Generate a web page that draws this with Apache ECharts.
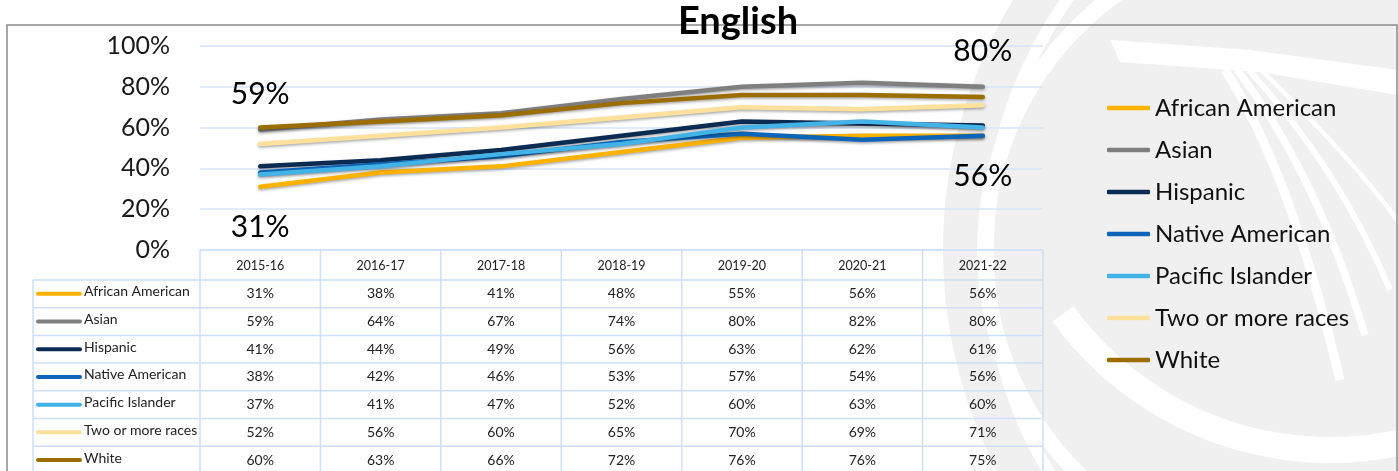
<!DOCTYPE html>
<html>
<head>
<meta charset="utf-8">
<title>English</title>
<script src="https://cdn.jsdelivr.net/npm/echarts@6/dist/echarts.min.js"></script>
<style>
  html, body { margin: 0; padding: 0; background: #fff; }
  #main { width: 1398px; height: 471px; }
</style>
</head>
<body>
<div id="main"></div>
<script>
// school years on the x axis
var years = ['2015-16', '2016-17', '2017-18', '2018-19', '2019-20', '2020-21', '2021-22'];

// percent proficient per group
var africanAmerican = [31, 38, 41, 48, 55, 56, 56];
var asian           = [59, 64, 67, 74, 80, 82, 80];
var hispanic        = [41, 44, 49, 56, 63, 62, 61];
var nativeAmerican  = [38, 42, 46, 53, 57, 54, 56];
var pacificIslander = [37, 41, 47, 52, 60, 63, 60];
var twoOrMore       = [52, 56, 60, 65, 70, 69, 71];
var white           = [60, 63, 66, 72, 76, 76, 75];

var yTicks = [0, 20, 40, 60, 80, 100];

var groups = [
  { name: 'African American',   data: africanAmerican, color: '#FFB300' },
  { name: 'Asian',              data: asian,           color: '#7F7F7F' },
  { name: 'Hispanic',           data: hispanic,        color: '#0B2B52' },
  { name: 'Native American',    data: nativeAmerican,  color: '#0C65B8' },
  { name: 'Pacific Islander',   data: pacificIslander, color: '#43B2E6' },
  { name: 'Two or more races',  data: twoOrMore,       color: '#FFE19C' },
  { name: 'White',              data: white,           color: '#9C6D00' }
];

// the four big labels on the chart: which group, which point, above/below
var callouts = [
  { data: asian, index: 0, pos: 'top' },
  { data: africanAmerican, index: 0, pos: 'bottom' },
  { data: asian, index: 6, pos: 'top' },
  { data: africanAmerican, index: 6, pos: 'bottom' }
];

var FONT = 'Lato, "Noto Sans", sans-serif';
var chart = echarts.init(document.getElementById('main'));

var series = groups.map(function (g) {
  return {
    name: g.name,
    type: 'line',
    data: g.data,
    symbol: 'none',
    color: g.color,
    lineStyle: {
      width: 4.5,
      color: g.color,
      cap: 'round',
      shadowColor: 'rgba(0,0,0,0.35)',
      shadowBlur: 3,
      shadowOffsetY: 1.5
    },
    emphasis: { disabled: true }
  };
});

// invisible points that only carry the big value labels
series.push({
  name: 'callouts',
  type: 'scatter',
  symbolSize: 2,
  itemStyle: { color: 'rgba(0,0,0,0)' },
  z: 5,
  silent: true,
  data: callouts.map(function (c) {
    return {
      value: [years[c.index], c.data[c.index]],
      label: {
        show: true,
        position: c.pos,
        distance: c.pos === 'top' ? 19 : 25,
        formatter: function (p) { return p.value[1] + '%'; },
        fontFamily: FONT,
        fontSize: 30,
        color: '#000',
        opacity: 1
      }
    };
  })
});

chart.setOption({
  animation: false,
  backgroundColor: '#fff',
  grid: { left: 200, right: 355, top: 46, bottom: 221 },
  legend: {
    orient: 'vertical',
    left: 1107,
    top: 93,
    padding: 0,
    itemWidth: 43,
    itemHeight: 4.5,
    itemGap: 12,
    icon: 'roundRect',
    textStyle: { fontFamily: FONT, fontSize: 24, color: '#111', lineHeight: 30 },
    data: groups.map(function (g) { return g.name; })
  },
  xAxis: {
    type: 'category',
    data: years,
    boundaryGap: true,
    axisLine: { show: false },
    axisTick: { show: false },
    axisLabel: { show: false }
  },
  yAxis: {
    type: 'value',
    min: yTicks[0],
    max: yTicks[yTicks.length - 1],
    interval: 20,
    axisLine: { show: false },
    axisTick: { show: false },
    axisLabel: {
      formatter: '{value}%',
      fontFamily: FONT,
      fontSize: 25,
      color: '#1a1a1a',
      margin: 30
    },
    splitLine: { lineStyle: { color: '#d6e5fb', width: 1.5 } }
  },
  series: series
});

// data table + frame + watermark, positioned from the chart's own axes
function buildGraphics() {
  var els = [];
  var border = '#cddff9';
  var x0 = chart.convertToPixel({ xAxisIndex: 0 }, years[0]);
  var x1 = chart.convertToPixel({ xAxisIndex: 0 }, years[1]);
  var colW = x1 - x0;
  var tableTop = chart.convertToPixel({ yAxisIndex: 0 }, 0);
  var gridLeft = x0 - colW / 2;
  var gridRight = gridLeft + colW * years.length;
  var headH = 30, rowH = 27.7, labelLeft = 33;
  var bottom = 480;

  // watermark logo (faint)
  var wm = '#eff0ef';
  function wmArc(cx, cy, r, a0, a1, w) {
    els.push({ type: 'arc', z: -19, silent: true,
      shape: { cx: cx, cy: cy, r: r, startAngle: a0 * Math.PI, endAngle: a1 * Math.PI },
      style: { stroke: '#fff', lineWidth: w, fill: null } });
  }
  els.push({ type: 'circle', z: -20, silent: true, shape: { cx: 1424, cy: 250, r: 481 }, style: { fill: wm } });
  wmArc(1424, 250, 436, 0.55, 1.48, 12);
  wmArc(1300, 250, 315, 0.62, 1.40, 16);
  wmArc(1330, 120, 330, 0.30, 0.80, 26);
  els.push({ type: 'polygon', z: -19, silent: true,
    shape: { points: [[1110, 40], [1250, 50], [1398, 70], [1398, 95], [1260, 72], [1120, 62]] },
    style: { fill: '#fff' } });
  [0, 1, 2, 3].forEach(function (i) {
    els.push({ type: 'bezierCurve', z: -19, silent: true,
      shape: { x1: 1225 + i * 12, y1: 70, cpx1: 1290 + i * 25, cpy1: 170, x2: 1340 + i * 25, y2: 380 - i * 45 },
      style: { stroke: '#fff', lineWidth: 9 - i * 1.5, fill: null } });
  });

  // frame
  els.push({ type: 'rect', z: 1, silent: true, shape: { x: 7, y: 25, width: 1390, height: 470 }, style: { stroke: '#8a8a8a', lineWidth: 1.5, fill: null } });

  // title on top of frame line
  els.push({ type: 'text', z: 10, x: 738, y: 22, style: { text: 'English', fontFamily: FONT, fontWeight: 'bold', fontSize: 38, fill: '#000', align: 'center', verticalAlign: 'middle' } });

  // table lines
  els.push({ type: 'line', z: 5, shape: { x1: gridLeft, y1: tableTop, x2: gridRight, y2: tableTop }, style: { stroke: border, lineWidth: 1.5 } });
  for (var r = 0; r <= groups.length; r++) {
    var yy = tableTop + headH + rowH * r;
    els.push({ type: 'line', z: 5, shape: { x1: labelLeft, y1: yy, x2: gridRight, y2: yy }, style: { stroke: border, lineWidth: 1.5 } });
  }
  els.push({ type: 'line', z: 5, shape: { x1: labelLeft, y1: tableTop + headH, x2: labelLeft, y2: bottom }, style: { stroke: border, lineWidth: 1.5 } });
  for (var c = 0; c <= years.length; c++) {
    var xx = gridLeft + colW * c;
    els.push({ type: 'line', z: 5, shape: { x1: xx, y1: tableTop, x2: xx, y2: bottom }, style: { stroke: border, lineWidth: 1.5 } });
  }

  // header
  years.forEach(function (y) {
    els.push({ type: 'text', z: 6, x: chart.convertToPixel({ xAxisIndex: 0 }, y), y: tableTop + headH / 2 + 1,
      style: { text: y, fontFamily: FONT, fontSize: 12.5, fill: '#222', align: 'center', verticalAlign: 'middle' } });
  });

  // rows
  groups.forEach(function (g, r) {
    var cy = tableTop + headH + rowH * r + rowH / 2;
    els.push({ type: 'line', z: 6, shape: { x1: 38, y1: cy, x2: 80, y2: cy }, style: { stroke: g.color, lineWidth: 4, lineCap: 'round' } });
    els.push({ type: 'text', z: 6, x: 84, y: cy - 2, style: { text: g.name, fontFamily: FONT, fontSize: 14, fill: '#222', align: 'left', verticalAlign: 'middle' } });
    g.data.forEach(function (v, i) {
      els.push({ type: 'text', z: 6, x: chart.convertToPixel({ xAxisIndex: 0 }, years[i]), y: cy,
        style: { text: v + '%', fontFamily: FONT, fontSize: 14, fill: '#222', align: 'center', verticalAlign: 'middle' } });
    });
  });
  return els;
}

chart.setOption({ graphic: buildGraphics() });
</script>
</body>
</html>
